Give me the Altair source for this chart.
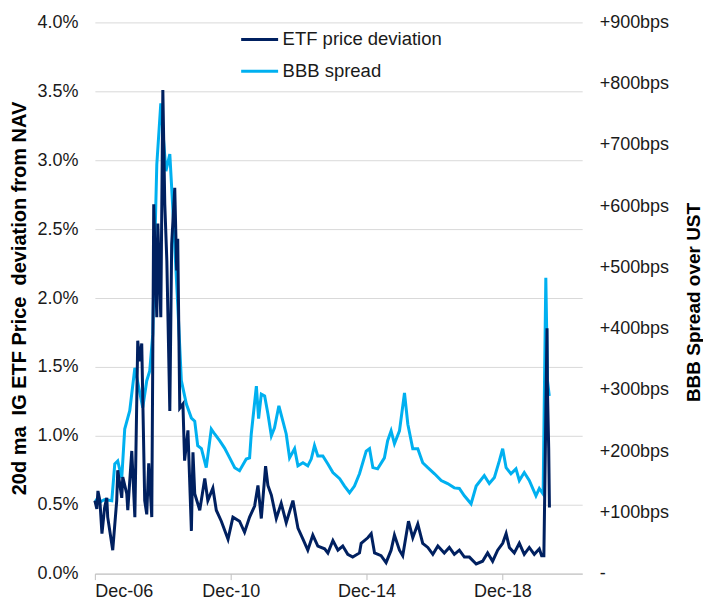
import altair as alt
import pandas as pd

# ETF price deviation from NAV (20d moving average), fraction
etf_dates = [
    "2006-12-01", "2006-12-22", "2007-01-03", "2007-01-24", "2007-02-15", "2007-03-16",
    "2007-04-08", "2007-04-18", "2007-06-11", "2007-07-24", "2007-08-04", "2007-09-16",
    "2007-09-27", "2007-11-09", "2007-11-20", "2008-01-02", "2008-02-04", "2008-03-06",
    "2008-03-27", "2008-04-18", "2008-05-20", "2008-06-11", "2008-07-02", "2008-08-04",
    "2008-08-25", "2008-09-27", "2008-10-08", "2008-11-09", "2008-12-01", "2008-12-22",
    "2009-01-13", "2009-02-14", "2009-03-06", "2009-04-08", "2009-04-29", "2009-05-10",
    "2009-06-01", "2009-07-05", "2009-07-23", "2009-08-28", "2009-10-04", "2009-10-21",
    "2009-11-09", "2010-01-02", "2010-02-25", "2010-03-30", "2010-05-23", "2010-06-29",
    "2010-08-22", "2010-11-02", "2010-12-25", "2011-03-06", "2011-04-29", "2011-06-22",
    "2011-08-15", "2011-09-20", "2011-10-26", "2011-12-11", "2012-01-05", "2012-02-11",
    "2012-04-04", "2012-05-27", "2012-07-20", "2012-09-30", "2012-11-23", "2013-01-16",
    "2013-03-09", "2013-05-02", "2013-06-25", "2013-09-06", "2013-10-11", "2013-12-04",
    "2014-01-27", "2014-03-20", "2014-05-13", "2014-07-05", "2014-09-16", "2014-10-04",
    "2014-12-14", "2015-01-20", "2015-02-25", "2015-05-06", "2015-06-29", "2015-08-22",
    "2015-09-27", "2015-11-20", "2015-12-25", "2016-02-25", "2016-04-11", "2016-06-04",
    "2016-07-27", "2016-09-20", "2016-11-13", "2017-01-06", "2017-03-16", "2017-05-09",
    "2017-07-02", "2017-08-25", "2017-10-18", "2017-12-11", "2018-02-22", "2018-05-02",
    "2018-06-25", "2018-08-18", "2018-10-11", "2018-12-04", "2019-01-10", "2019-02-14",
    "2019-04-08", "2019-06-01", "2019-07-24", "2019-09-16", "2019-11-09", "2020-01-02",
    "2020-01-27", "2020-02-20", "2020-03-25", "2020-03-29", "2020-04-12", "2020-04-20",
]
etf_values = [
    0.0053, 0.0047, 0.0060, 0.0053, 0.0029, 0.0048,
    0.0055, 0.0041, 0.0017, 0.0053, 0.0075, 0.0055,
    0.0070, 0.0058, 0.0046, 0.0089, 0.0041, 0.0169,
    0.0154, 0.0167, 0.0053, 0.0043, 0.0080, 0.0041,
    0.0268, 0.0186, 0.0254, 0.0186, 0.0351, 0.0268,
    0.0227, 0.0118, 0.0239, 0.0280, 0.0220, 0.0243,
    0.0120, 0.0123, 0.0082, 0.0104, 0.0031, 0.0088,
    0.0058, 0.0046, 0.0069, 0.0053, 0.0062, 0.0046,
    0.0038, 0.0025, 0.0041, 0.0038, 0.0030, 0.0041,
    0.0049, 0.0064, 0.0040, 0.0078, 0.0064, 0.0057,
    0.0040, 0.0051, 0.0037, 0.0053, 0.0033, 0.0025,
    0.0017, 0.0028, 0.0020, 0.0018, 0.0015, 0.0024,
    0.0017, 0.0020, 0.0014, 0.0012, 0.0015, 0.0022,
    0.0026, 0.0029, 0.0015, 0.0013, 0.0008, 0.0017,
    0.0028, 0.0017, 0.0013, 0.0038, 0.0026, 0.0036,
    0.0022, 0.0019, 0.0014, 0.0020, 0.0015, 0.0019,
    0.0014, 0.0017, 0.0012, 0.0012, 0.0007, 0.0009,
    0.0015, 0.0009, 0.0017, 0.0022, 0.0029, 0.0019,
    0.0015, 0.0022, 0.0014, 0.0019, 0.0014, 0.0018,
    0.0013, 0.0013, 0.0178, 0.0135, 0.0091, 0.0048,
]

# BBB spread over UST, bps
bbb_dates = [
    "2006-12-01", "2007-01-24", "2007-03-16", "2007-06-01", "2007-07-03", "2007-08-04",
    "2007-09-16", "2007-10-18", "2007-12-11", "2008-02-04", "2008-04-29", "2008-06-11",
    "2008-07-13", "2008-08-15", "2008-08-25", "2008-09-27", "2008-11-09", "2009-01-03",
    "2009-02-14", "2009-03-16", "2009-05-10", "2009-06-18", "2009-08-11", "2009-10-04",
    "2009-11-09", "2009-12-11", "2010-01-20", "2010-03-13", "2010-05-06", "2010-06-11",
    "2010-08-04", "2010-09-26", "2010-11-20", "2011-01-13", "2011-03-06", "2011-05-17",
    "2011-06-22", "2011-07-10", "2011-09-03", "2011-09-27", "2011-10-26", "2011-12-01",
    "2012-01-05", "2012-02-11", "2012-03-16", "2012-05-02", "2012-06-14", "2012-07-20",
    "2012-08-25", "2012-10-18", "2012-11-23", "2013-01-16", "2013-03-09", "2013-04-15",
    "2013-05-20", "2013-06-25", "2013-08-18", "2013-10-11", "2013-12-04", "2014-02-15",
    "2014-04-08", "2014-06-01", "2014-07-24", "2014-09-16", "2014-11-27", "2015-01-02",
    "2015-02-07", "2015-03-30", "2015-06-11", "2015-07-16", "2015-08-22", "2015-09-27",
    "2015-11-20", "2016-01-13", "2016-02-18", "2016-04-11", "2016-06-04", "2016-07-27",
    "2016-09-20", "2016-12-01", "2017-02-11", "2017-04-21", "2017-07-02", "2017-08-25",
    "2017-10-18", "2017-12-29", "2018-02-22", "2018-05-20", "2018-07-13", "2018-09-06",
    "2018-10-29", "2018-12-04", "2019-01-10", "2019-03-03", "2019-04-26", "2019-06-01",
    "2019-07-24", "2019-09-16", "2019-11-27", "2020-01-02", "2020-02-12", "2020-03-12",
    "2020-03-30", "2020-04-18",
]
bbb_values = [
    121, 117, 121, 119, 179, 184,
    156, 236, 266, 336, 271, 315,
    331, 391, 466, 668, 768, 657,
    685, 603, 440, 315, 277, 254,
    249, 209, 204, 173, 236, 228,
    217, 205, 189, 173, 168, 187,
    189, 228, 306, 253, 293, 290,
    261, 225, 238, 274, 249, 228,
    189, 204, 176, 181, 176, 187,
    209, 192, 192, 179, 165, 155,
    143, 132, 143, 163, 200, 204,
    173, 171, 189, 217, 233, 212,
    233, 295, 244, 204, 204, 181,
    173, 163, 152, 147, 140, 139,
    127, 114, 143, 160, 147, 157,
    184, 204, 173, 163, 171, 152,
    165, 152, 127, 139, 130, 483,
    315, 290,
]

series_names = ["ETF price deviation", "BBB spread"]
series_colors = ["#002060", "#00B0F0"]
x_ticks = ["2006-12-01", "2010-12-01", "2014-12-01", "2018-12-01"]
x_domain = ["2006-12-01", "2021-04-07"]
left_ticks = [0, 0.005, 0.01, 0.015, 0.02, 0.025, 0.03, 0.035, 0.04]
right_ticks = [0, 100, 200, 300, 400, 500, 600, 700, 800, 900]

etf_df = pd.DataFrame({"date": pd.to_datetime(etf_dates), "value": etf_values,
                       "series": series_names[0]})
bbb_df = pd.DataFrame({"date": pd.to_datetime(bbb_dates), "value": bbb_values,
                       "series": series_names[1]})

FONT = "Liberation Sans"
W, H = 488, 552

x_enc = alt.X(
    "date:T",
    scale=alt.Scale(domain=x_domain),
    axis=alt.Axis(
        values=[pd.Timestamp(d).isoformat() for d in x_ticks],
        format="%b-%y", title=None, grid=False,
        domainColor="#bfbfbf", tickColor="#bfbfbf", tickSize=6,
        labelFontSize=18, labelColor="#1a1a1a", labelPadding=3,
        labelFont=FONT,
    ),
)
color_enc = alt.Color(
    "series:N",
    scale=alt.Scale(domain=series_names, range=series_colors),
    legend=alt.Legend(
        title=None, orient="none", legendX=145, legendY=-3,
        symbolType="stroke", symbolSize=1369, symbolStrokeWidth=3,
        labelFontSize=18.5, labelFont=FONT, labelColor="#1a1a1a",
        labelOffset=3, rowPadding=2,
    ),
)

etf_line = alt.Chart(etf_df).mark_line(strokeWidth=3).encode(
    x=x_enc,
    y=alt.Y(
        "value:Q",
        scale=alt.Scale(domain=[0, 0.04]),
        axis=alt.Axis(
            values=left_ticks, format=".1%", orient="left",
            title="20d ma\u00a0 IG ETF Price\u00a0 deviation from NAV",
            titleFontSize=20, titleFontWeight="bold", titleFont=FONT,
            titleColor="#000000", titleAngle=270,
            titleX=-75, titleY=H / 2, titleAlign="center", titleBaseline="middle",
            labelFontSize=18, labelFont=FONT, labelColor="#1a1a1a",
            labelPadding=17, grid=True, gridColor="#d9d9d9",
            domain=False, ticks=False,
        ),
    ),
    color=color_enc,
)

bbb_line = alt.Chart(bbb_df).mark_line(strokeWidth=3).encode(
    x=x_enc,
    y=alt.Y(
        "value:Q",
        scale=alt.Scale(domain=[0, 900]),
        axis=alt.Axis(
            values=right_ticks, orient="right",
            labelExpr="datum.value == 0 ? '-' : '+' + datum.value + 'bps'",
            title="BBB Spread over UST", titleAngle=270,
            titleX=111, titleY=H / 2 + 4, titleAlign="center", titleBaseline="middle",
            titleFontSize=19, titleFontWeight="bold", titleFont=FONT,
            titleColor="#000000",
            labelFontSize=18, labelFont=FONT, labelColor="#1a1a1a",
            labelPadding=17, grid=False, domain=False, ticks=False,
        ),
    ),
    color=color_enc,
)

chart = alt.layer(bbb_line, etf_line).resolve_scale(y="independent").properties(
    width=W, height=H,
    padding={"left": 2, "top": 5, "right": 0, "bottom": 0},
).configure_view(stroke=None)

chart.save("out.html", embed_options={"renderer": "svg", "actions": False})
